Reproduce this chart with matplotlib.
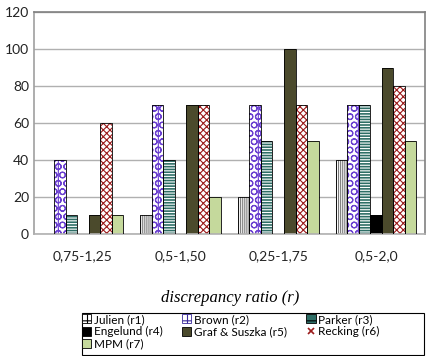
import numpy as np
import matplotlib
matplotlib.use('Agg')
import matplotlib.pyplot as plt
from matplotlib.patches import Patch, Rectangle
from matplotlib.lines import Line2D

plt.rcParams['font.family'] = ['Lato', 'DejaVu Sans']
plt.rcParams['hatch.linewidth'] = 0.8

categories = ['0,75-1,25', '0,5-1,50', '0,25-1,75', '0,5-2,0']
names = ['Julien (r1)', 'Brown (r2)', 'Parker (r3)', 'Engelund (r4)',
         'Graf & Suszka (r5)', 'Recking (r6)', 'MPM (r7)']
julien = [0, 10, 20, 40]
brown = [40, 70, 70, 70]
parker = [10, 40, 50, 70]
engelund = [0, 0, 0, 10]
graf = [10, 70, 100, 90]
recking = [60, 70, 70, 80]
mpm = [10, 20, 50, 50]
series = [julien, brown, parker, engelund, graf, recking, mpm]

# fill, hatch, hatch colour
styles = [
    ('white', '||||||||', '#7a7a7a'),
    ('white', 'OO|', '#6a3fd0'),
    ('#2e6e66', '------', 'white'),
    ('black', '', 'black'),
    ('#4b4a2c', '', '#4b4a2c'),
    ('white', 'xxxxx', '#9b1b1b'),
    ('#c5d99c', '', '#c5d99c'),
]

fig = plt.figure(figsize=(4.3, 3.56), dpi=100)
ax = fig.add_axes([0.079, 0.343, 0.909, 0.623])

x = np.arange(len(categories))
w = 0.118
for i, vals in enumerate(series):
    fc, hatch, hc = styles[i]
    pos = x + (i - 3) * w
    ax.bar(pos, vals, w, color=fc, hatch=hatch, edgecolor=hc, linewidth=0, zorder=2)
    ax.bar(pos, vals, w, fill=False, edgecolor='black', linewidth=0.6, zorder=3)

ax.set_xlim(-0.5, 3.5)
ax.set_ylim(0, 120)
ax.set_yticks(range(0, 121, 20))
ax.set_xticks(x)
ax.set_xticklabels(categories)
ax.tick_params(axis='both', length=0, labelsize=10, colors='#222222')
ax.tick_params(axis='x', pad=12)
ax.grid(axis='y', color='#b0b0b0', linewidth=1, zorder=0)
for s in ax.spines.values():
    s.set_color('#808080')
    s.set_linewidth(1.2)
ax.spines['left'].set_color('#a0a0a0')
ax.spines['bottom'].set_color('#b0b0b0')

fig.text(0.535, 0.162, 'discrepancy ratio (r)', ha='center', va='center',
         family='Liberation Serif', style='italic', fontsize=12)

handles = []
for i, (fc, hatch, hc) in enumerate(styles):
    if i == 5:
        handles.append(Line2D([], [], marker='x', color='#9b1b1b', linestyle='none',
                              markersize=4, markeredgewidth=1.2))
    elif i == 0:
        handles.append(Patch(facecolor='white', edgecolor='black', hatch='++', linewidth=0.6))
    elif i == 1:
        handles.append(Patch(facecolor='white', edgecolor='#3a2a9a', hatch='++', linewidth=0.6))
    else:
        handles.append(Patch(facecolor=fc, edgecolor='black', hatch=hatch[:2], linewidth=0.6))

# legend box is wider than its content, so draw the frame separately
fig.patches.append(Rectangle((0.191, 0.002), 0.795, 0.119, transform=fig.transFigure,
                             fill=False, edgecolor='black', linewidth=0.8))

# legend fills column by column; reorder so rows read r1 r2 r3 / r4 r5 r6 / r7
order = [0, 3, 6, 1, 4, 2, 5]
fig.legend([handles[k] for k in order], [names[k] for k in order],
           loc='upper left', bbox_to_anchor=(0.186, 0.123),
           ncol=3, fontsize=8.5, frameon=False,
           handlelength=0.8, handleheight=0.8, handletextpad=0.25, borderpad=0.15,
           labelspacing=0.1, columnspacing=1.6, borderaxespad=0)

fig.savefig('out.png', dpi=100)
